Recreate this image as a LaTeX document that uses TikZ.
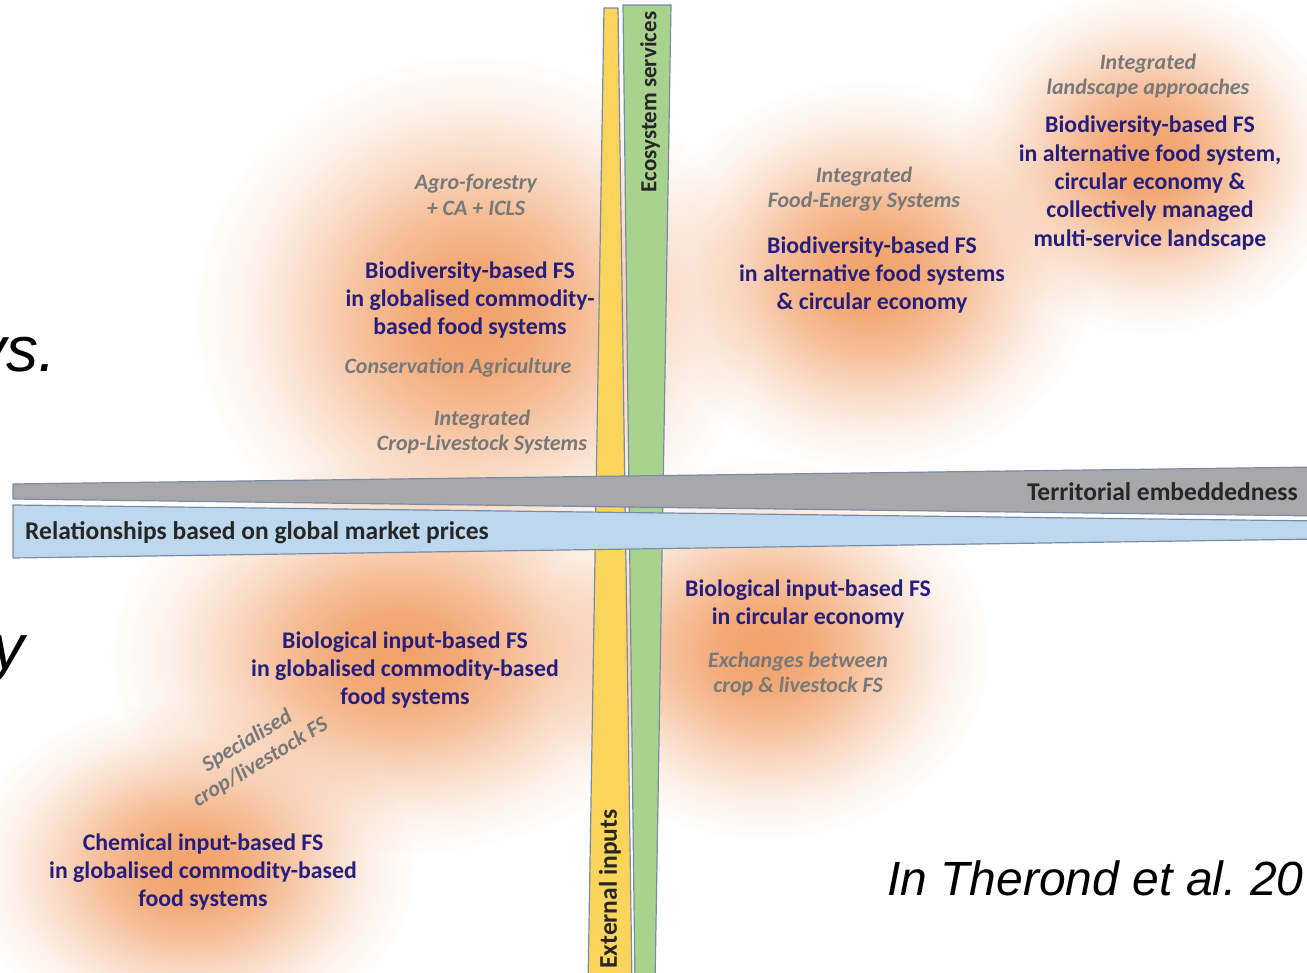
\documentclass[tikz,border=0pt]{standalone}
\usepackage{fontspec}
\setmainfont{Carlito}
\newfontfamily\arialf{Liberation Sans}
\usetikzlibrary{fadings}
\definecolor{blobc}{RGB}{240,145,80}
\definecolor{navy}{RGB}{38,30,125}
\definecolor{gtext}{RGB}{120,120,120}
\definecolor{ybar}{RGB}{252,212,92}
\definecolor{gbar}{RGB}{168,210,142}
\definecolor{graybar}{RGB}{168,168,170}
\definecolor{bluebar}{RGB}{189,215,238}
\definecolor{edgec}{RGB}{120,140,165}
\definecolor{fzero}{gray}{0.85}
\definecolor{fone}{gray}{0.78}
\definecolor{ftwo}{gray}{0.58}
\definecolor{fthree}{gray}{0.33}
\definecolor{ffour}{gray}{0.12}
\definecolor{ffive}{gray}{0.0}
\pgfdeclareradialshading{softfadeshade}{\pgfpoint{0bp}{0bp}}{color(0bp)=(fzero); color(5bp)=(fone); color(10bp)=(ftwo); color(15bp)=(fthree); color(20bp)=(ffour); color(25bp)=(ffive); color(50bp)=(ffive)}
\pgfdeclarefading{softblob}{\pgfuseshading{softfadeshade}}
\begin{document}
\begin{tikzpicture}[x=1pt,y=-1pt,
 blob/.style={fill=blobc, path fading=softblob},
 bar/.style={draw=edgec, line width=1.2pt, line join=round},
 main/.style={text=navy, font=\fontsize{23.8}{28.3}\selectfont\bfseries, align=center, inner sep=0pt},
 side/.style={text=gtext, font=\fontsize{22}{25.5}\selectfont\bfseries\itshape, align=center, inner sep=0pt},
 axis/.style={text=black!85, font=\fontsize{25.5}{28}\selectfont\bfseries, inner sep=0pt},
 cite/.style={font=\arialf\itshape\fontsize{48}{56}\selectfont, inner sep=0pt}]
\useasboundingbox (0,0) rectangle (1307,973);
\fill[white] (0,0) rectangle (1307,973);
% orange blobs
\fill[blob] (475,315) ellipse (280 and 260);
\fill[blob] (870,275) ellipse (225 and 195);
\fill[blob] (1150,160) ellipse (195 and 175);
\fill[blob] (400,655) ellipse (290 and 200);
\fill[blob] (190,870) ellipse (225 and 170);
\fill[blob] (765,650) ellipse (225 and 190);
% vertical bars
\draw[bar, fill=ybar] (604,8) -- (618,8) -- (632,985) -- (588,985) -- cycle;
\draw[bar, fill=gbar] (623,5) -- (671,5) -- (655,985) -- (635,985) -- cycle;
% horizontal bars
\draw[bar, fill=graybar] (13,484) -- (1320,467) -- (1320,516) -- (13,499) -- cycle;
\draw[bar, fill=bluebar] (13,505) -- (1320,521) -- (1320,539) -- (13,558) -- cycle;
% axis labels
\node[axis, anchor=east] (te) at (1298,492) {Territorial embeddedness};
\node[axis, anchor=west] (rel) at (25,533) {Relationships based on global market prices};
\node[axis, rotate=90, font=\fontsize{23}{26}\selectfont\bfseries] (es) at (650,102) {Ecosystem services};
\node[axis, rotate=90] (ei) at (610,889) {External inputs};
% upper left
\node[side] (af) at (476,195) {Agro-forestry\\+ CA + ICLS};
\node[main] (bga) at (470,300) {Biodiversity-based FS\\in globalised commodity-\\based food systems};
\node[side] (ca) at (458,368) {Conservation Agriculture};
\node[side] (icls) at (482,432) {Integrated\\Crop-Livestock Systems};
% upper middle
\node[side] (ifes) at (864,189) {Integrated\\Food-Energy Systems};
\node[main] (bab) at (872,275) {Biodiversity-based FS\\in alternative food systems\\\& circular economy};
% upper right
\node[side] (ila) at (1148,76) {Integrated\\landscape approaches};
\node[main] (bac) at (1150,183) {Biodiversity-based FS\\in alternative food system,\\circular economy \&\\collectively managed\\multi-service landscape};
% lower left
\node[main] (big) at (405,670) {Biological input-based FS\\in globalised commodity-based\\food systems};
\node[side, rotate=31] (spec) at (254,752) {Specialised\\crop/livestock FS};
\node[main] (cig) at (203,872) {Chemical input-based FS\\in globalised commodity-based\\food systems};
% lower right
\node[main] (bic) at (808,604) {Biological input-based FS\\in circular economy};
\node[side] (ex) at (798,674) {Exchanges between\\crop \& livestock FS};
% slide fragments
\node[cite, anchor=base west] (cit) at (887,895) {In Therond et al.\ 20};
\node[cite, font=\arialf\itshape\fontsize{64}{70}\selectfont, anchor=base east] (ys) at (56,372) {ys.};
\node[cite, font=\arialf\itshape\fontsize{64}{70}\selectfont, anchor=base east] (yy) at (25,669) {y};
\end{tikzpicture}
\end{document}
